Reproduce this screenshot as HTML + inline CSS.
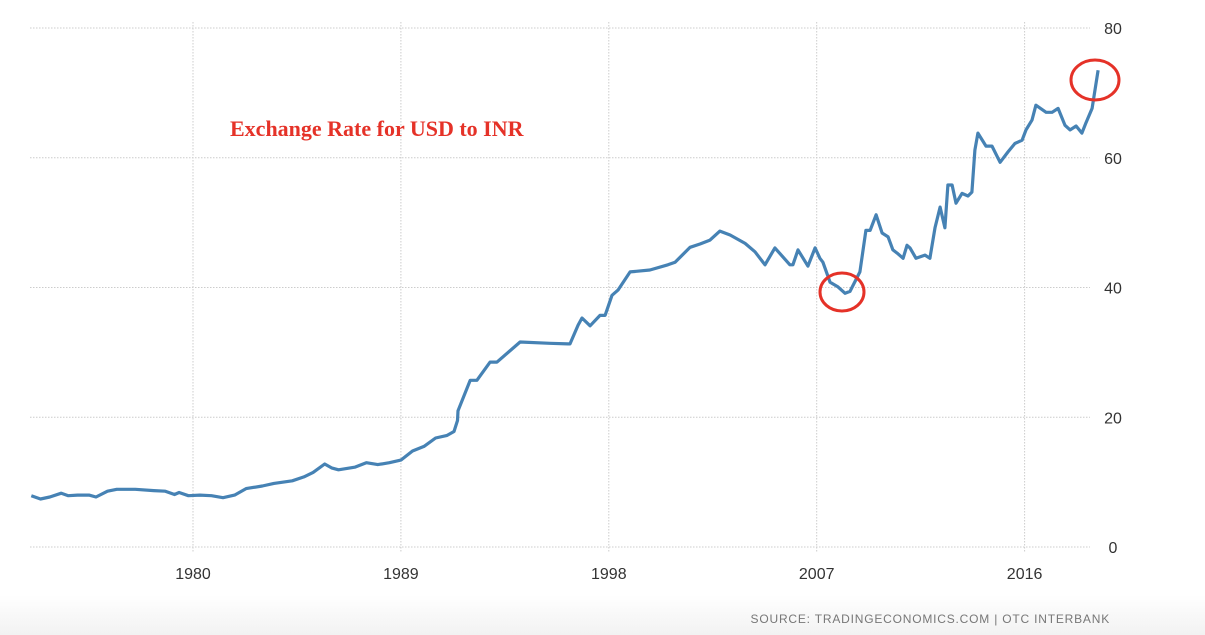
<!DOCTYPE html>
<html><head><meta charset="utf-8"><style>
body{margin:0;background:#fff;}
svg{display:block;font-family:"Liberation Sans",sans-serif;}
</style></head><body>
<svg id="chart" width="1205" height="635" viewBox="0 0 1205 635">
<defs><linearGradient id="fb" x1="0" y1="0" x2="0" y2="1"><stop offset="0" stop-color="#fff"/><stop offset="1" stop-color="#f2f2f2"/></linearGradient></defs>
<rect x="0" y="595" width="1205" height="40" fill="url(#fb)"/>
<g id="grid"></g><g id="axes"></g>
<path id="line" fill="none" stroke="#4682b4" stroke-width="3.2" stroke-linejoin="round"/>
<text x="230" y="136" font-family="Liberation Serif, serif" font-weight="bold" font-size="22" fill="#e53228">Exchange Rate for USD to INR</text>
<ellipse cx="842" cy="292" rx="22" ry="19" fill="none" stroke="#e53228" stroke-width="3"/>
<ellipse cx="1095" cy="80" rx="24" ry="20" fill="none" stroke="#e53228" stroke-width="3"/>
<text x="1110" y="623" text-anchor="end" font-size="12" fill="#777" letter-spacing="0.8">SOURCE: TRADINGECONOMICS.COM | OTC INTERBANK</text>
</svg>
<script>
const years=[1973.0,1973.4,1973.8,1974.3,1974.6,1975.0,1975.5,1975.8,1976.3,1976.7,1977.5,1978.3,1978.8,1979.2,1979.4,1979.8,1980.3,1980.8,1981.3,1981.8,1982.3,1983.0,1983.5,1984.3,1984.8,1985.2,1985.7,1986.0,1986.3,1987.0,1987.5,1988.0,1988.5,1989.0,1989.5,1990.0,1990.5,1991.0,1991.3,1991.45,1991.47,1992.0,1992.29,1992.86,1993.16,1994.16,1995.45,1996.23,1996.32,1996.67,1996.84,1997.19,1997.62,1997.84,1998.14,1998.4,1998.92,1999.78,2000.56,2000.87,2001.52,2001.95,2002.38,2002.81,2003.25,2003.9,2004.33,2004.76,2005.19,2005.84,2005.97,2006.19,2006.62,2006.93,2007.14,2007.27,2007.58,2007.92,2008.23,2008.44,2008.87,2009.13,2009.31,2009.57,2009.83,2010.09,2010.3,2010.48,2010.74,2010.91,2011.04,2011.3,2011.69,2011.9,2012.12,2012.34,2012.55,2012.68,2012.86,2013.03,2013.29,2013.55,2013.72,2013.85,2013.98,2014.33,2014.59,2014.94,2015.28,2015.58,2015.89,2016.06,2016.32,2016.49,2016.93,2017.19,2017.45,2017.75,2017.97,2018.23,2018.48,2018.66,2018.92,2019.18];
const rates=[7.9,7.4,7.7,8.3,7.9,8.0,8.0,7.7,8.6,8.9,8.9,8.7,8.6,8.1,8.4,7.9,8.0,7.9,7.6,8.0,9.0,9.4,9.8,10.2,10.8,11.5,12.8,12.2,11.9,12.3,13.0,12.7,13.0,13.4,14.8,15.5,16.8,17.2,17.8,19.5,21.0,25.7,25.7,28.5,28.5,31.6,31.4,31.3,31.3,34.2,35.3,34.1,35.7,35.7,38.8,39.6,42.4,42.7,43.5,43.9,46.2,46.7,47.3,48.7,48.1,46.8,45.5,43.5,46.1,43.5,43.5,45.8,43.3,46.1,44.5,43.9,40.8,40.1,39.1,39.4,42.4,48.8,48.8,51.2,48.4,47.8,45.8,45.3,44.5,46.5,46.1,44.5,45.0,44.5,49.2,52.4,49.2,55.8,55.8,53.0,54.5,54.1,54.7,61.2,63.8,61.8,61.8,59.3,60.9,62.2,62.7,64.3,65.8,68.1,67.0,67.0,67.6,65.0,64.3,64.9,63.8,65.4,67.6,73.5,70.1];
const yTicks=[0,20,40,60,80];
const xTicks=[1980,1989,1998,2007,2016];
const NS="http://www.w3.org/2000/svg";
const X=y=>193+(y-1980)*23.1;
const Y=v=>547-v*6.4875;
const grid=document.getElementById('grid'),axes=document.getElementById('axes');
function mk(tag,attrs,parent){const e=document.createElementNS(NS,tag);for(const k in attrs)e.setAttribute(k,attrs[k]);parent.appendChild(e);return e;}
yTicks.forEach(v=>{
 const l=mk('line',{x1:30,x2:1090,y1:Y(v),y2:Y(v),stroke:'#ccc','stroke-dasharray':'1.5,1.5'},grid);
 
 
 const t=mk('text',{x:1113,y:Y(v)+6,'text-anchor':'middle','font-size':16,fill:'#333'},axes);
 
 
 t.textContent=v;
});
xTicks.forEach(yr=>{
 const l=mk('line',{x1:X(yr),x2:X(yr),y1:22,y2:552,stroke:'#ccc','stroke-dasharray':'1.5,1.5'},grid);
 
 
 const t=mk('text',{x:X(yr),y:579,'text-anchor':'middle','font-size':16,fill:'#333'},axes);
 
 
 t.textContent=yr;
});
document.getElementById('line').setAttribute('d',years.map((y,i)=>(i?'L':'M')+X(y).toFixed(1)+','+Y(rates[i]).toFixed(1)).join(''));
</script>
</body></html>
